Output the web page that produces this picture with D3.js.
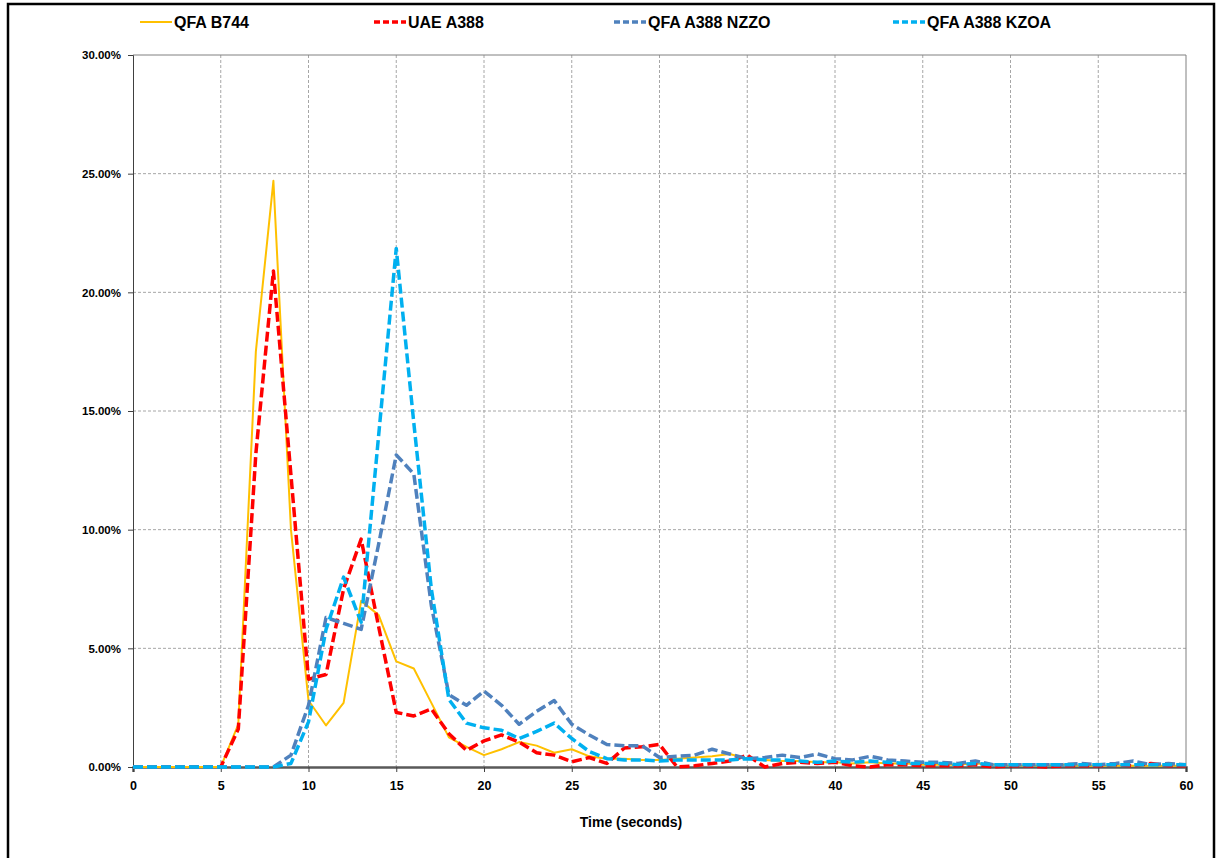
<!DOCTYPE html>
<html>
<head>
<meta charset="utf-8">
<script src="https://cdn.jsdelivr.net/npm/d3@7/dist/d3.min.js"></script>
<style>
  body { margin: 0; background: #fff; }
  svg { display: block; font-family: "Liberation Sans", Arial, sans-serif; }
</style>
</head>
<body>
<div id="chart"></div>
<script>
// time in seconds (x categories)
const seconds = [0,1,2,3,4,5,6,7,8,9,10,11,12,13,14,15,16,17,18,19,20,21,22,23,24,25,26,27,28,29,30,
  31,32,33,34,35,36,37,38,39,40,41,42,43,44,45,46,47,48,49,50,51,52,53,54,55,56,57,58,59,60]

// percentages
const qfaB744 = [0,0,0,0,0,0, 1.8,17.5,24.7,10.0,2.8, 1.75,2.7,7.0,6.4,4.45, 4.15,2.7,1.25,0.85,0.5,
  0.75,1.05,0.9,0.6,0.75, 0.45,0.35,0.35,0.3,0.3, 0.35,0.4,0.45,0.55,0.35, 0.3,0.25,0.25,0.2,0.2,
  0.15,0.2,0.15,0.15,0.1, 0.1,0.1,0.15,0.1,0.05, 0.05,0.05,0.1,0.05,0.05, 0.05,0.05,0.05,0.05,0.05]
const uaeA388 = [0,0,0,0,0,0, 1.6,13.2,20.9,12.3,3.7, 3.9,7.5,9.6,5.9,2.3, 2.15,2.45,1.4,0.7,1.1,
  1.35,1.05,0.6,0.5,0.22, 0.4,0.15,0.8,0.85,0.95, 0,0.05,0.15,0.25,0.5, 0,0.15,0.2,0.15,0.2,
  0.05,0,0.1,0.1,0.05, 0.05,0.05,0.1,0,0.05, 0.05,0,0.05,0.05,0.05, 0.1,0.05,0.15,0.05,0.05]
const qfaA388Nzzo = [0,0,0,0,0,0, 0,0,0,0.5,2.6, 6.3,6.05,5.8,9.4,13.15, 12.35,6.8,3.05,2.6,3.2,
  2.6,1.8,2.35,2.8,1.8, 1.35,0.95,0.9,0.9,0.4, 0.45,0.5,0.75,0.55,0.35, 0.4,0.5,0.4,0.55,0.35,
  0.3,0.45,0.3,0.25,0.2, 0.2,0.15,0.25,0.1,0.1, 0.1,0.1,0.1,0.15,0.1, 0.15,0.25,0.1,0.15,0.1]
const qfaA388Kzoa = [0,0,0,0,0,0, 0,0,0,0.15,1.9, 5.8,8.0,6.1,14.0,21.85, 14.5,7.5,2.85,1.85,1.65,
  1.55,1.2,1.5,1.85,1.2, 0.65,0.35,0.3,0.3,0.25, 0.3,0.3,0.3,0.3,0.35, 0.3,0.3,0.25,0.2,0.25,
  0.2,0.25,0.2,0.15,0.15, 0.15,0.1,0.15,0.1,0.1, 0.1,0.1,0.1,0.1,0.1, 0.1,0.1,0.1,0.1,0.1]

const seriesNames = ['QFA B744', 'UAE A388', 'QFA A388 NZZO', 'QFA A388 KZOA']
const xTicks = [0,5,10,15,20,25,30,35,40,45,50,55,60]
const yTicks = [0,5,10,15,20,25,30]

const series = [
  { name: seriesNames[0], values: qfaB744, color: '#FFC000', width: 2, dash: null },
  { name: seriesNames[1], values: uaeA388, color: '#FF0000', width: 3.5, dash: '10,4' },
  { name: seriesNames[2], values: qfaA388Nzzo, color: '#4F81BD', width: 3.5, dash: '10,4' },
  { name: seriesNames[3], values: qfaA388Kzoa, color: '#00B0F0', width: 3.5, dash: '10,4' }
]

const W = 1218, H = 858
const margin = { top: 55, right: 32, bottom: 91, left: 133 }
const graphWidth = W - margin.left - margin.right
const graphHeight = H - margin.top - margin.bottom

const svg = d3.select('#chart').append('svg')
  .attr('width', W)
  .attr('height', H)

// outer frame
svg.append('rect')
  .attr('x', 8).attr('y', 4)
  .attr('width', 1206).attr('height', 880)
  .attr('fill', '#fff')
  .attr('stroke', '#000')
  .attr('stroke-width', 2.5)

const graph = svg.append('g')
  .attr('transform', `translate(${margin.left},${margin.top})`)

const x = d3.scaleLinear().domain([0, 60]).range([0, graphWidth])
const y = d3.scaleLinear().domain([0, 30]).range([graphHeight, 0])

// grid
graph.append('g')
  .selectAll('line')
  .data(xTicks.filter(d => d > 0 && d < 60))
  .enter().append('line')
  .attr('x1', d => x(d)).attr('x2', d => x(d))
  .attr('y1', 0).attr('y2', graphHeight)
  .attr('stroke', '#a6a6a6').attr('stroke-width', 1)
  .attr('stroke-dasharray', '3,2')

graph.append('g')
  .selectAll('line')
  .data(yTicks.filter(d => d > 0 && d < 30))
  .enter().append('line')
  .attr('x1', 0).attr('x2', graphWidth)
  .attr('y1', d => y(d)).attr('y2', d => y(d))
  .attr('stroke', '#a6a6a6').attr('stroke-width', 1)
  .attr('stroke-dasharray', '3,2')

// plot area border top / right
graph.append('path')
  .attr('d', `M0,${y(30)}H${x(60)}V${graphHeight}`)
  .attr('fill', 'none')
  .attr('stroke', '#808080')
  .attr('stroke-width', 1)

// axes
const axeX = d3.axisBottom(x).tickValues(xTicks).tickSize(5).tickPadding(9).tickFormat(d3.format('d'))
const axeY = d3.axisLeft(y).tickValues(yTicks).tickSize(5).tickPadding(7).tickFormat(d => d.toFixed(2) + '%')

const groupX = graph.append('g')
  .attr('transform', `translate(0,${graphHeight})`)
  .call(axeX)
groupX.select('.domain').attr('stroke', '#595959').attr('stroke-width', 2.5)
groupX.selectAll('.tick line').attr('stroke', '#404040')
groupX.selectAll('text')
  .attr('font-size', 12.5).attr('font-weight', 'bold').attr('fill', '#000')
  .attr('font-family', '"Liberation Sans", Arial, sans-serif')

const groupY = graph.append('g').call(axeY)
groupY.select('.domain').attr('stroke', '#404040').attr('stroke-width', 1)
groupY.selectAll('.tick line').attr('stroke', '#404040')
groupY.selectAll('text')
  .attr('font-size', 11.5).attr('font-weight', 'bold').attr('fill', '#000')
  .attr('font-family', '"Liberation Sans", Arial, sans-serif')

// lines
const line = d3.line()
  .x((d, i) => x(seconds[i]))
  .y(d => y(d))

series.forEach(s => {
  graph.append('path')
    .datum(s.values)
    .attr('d', line)
    .attr('fill', 'none')
    .attr('stroke', s.color)
    .attr('stroke-width', s.width)
    .attr('stroke-dasharray', s.dash)
    .attr('stroke-linejoin', 'round')
})

// x axis title
svg.append('text')
  .attr('x', 631).attr('y', 827)
  .attr('text-anchor', 'middle')
  .attr('font-size', 14).attr('font-weight', 'bold')
  .text('Time (seconds)')

// legend
const legendX = [140, 374, 614, 893]
const legend = svg.append('g')
series.forEach((s, i) => {
  const g = legend.append('g').attr('transform', `translate(${legendX[i]},22)`)
  g.append('line')
    .attr('x1', 0).attr('x2', 32)
    .attr('y1', 0).attr('y2', 0)
    .attr('stroke', s.color)
    .attr('stroke-width', s.width)
    .attr('stroke-dasharray', s.dash ? '6,3' : null)
  g.append('text')
    .attr('x', 34).attr('y', 5.5)
    .attr('font-size', 16).attr('font-weight', 'bold')
    .text(s.name)
})
</script>
</body>
</html>
